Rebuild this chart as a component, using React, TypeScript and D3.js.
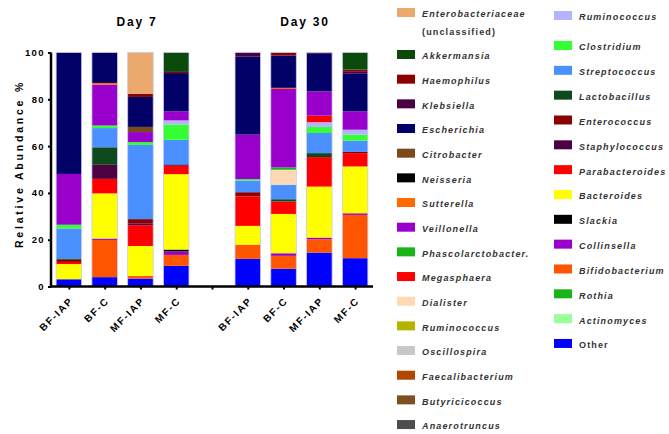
import React, { useEffect, useRef } from "react";
import * as d3 from "d3";

// legend columns, top to bottom (stacking goes the other way, bottom up)
const LEGEND_LEFT = [
  "Enterobacteriaceae",
  "Akkermansia",
  "Haemophilus",
  "Klebsiella",
  "Escherichia",
  "Citrobacter",
  "Neisseria",
  "Sutterella",
  "Veillonella",
  "Phascolarctobacter",
  "Megasphaera",
  "Dialister",
  "Ruminococcus_b",
  "Oscillospira",
  "Faecalibacterium",
  "Butyricicoccus",
  "Anaerotruncus",
];
const LEGEND_RIGHT = [
  "Ruminococcus_a",
  "Clostridium",
  "Streptococcus",
  "Lactobacillus",
  "Enterococcus",
  "Staphylococcus",
  "Parabacteroides",
  "Bacteroides",
  "Slackia",
  "Collinsella",
  "Bifidobacterium",
  "Rothia",
  "Actinomyces",
  "Other",
];

const COLORS: Record<string, string> = {
  Enterobacteriaceae: "#eba96e",
  Akkermansia: "#0c4a0c",
  Haemophilus: "#8b0000",
  Klebsiella: "#4b0042",
  Escherichia: "#000066",
  Citrobacter: "#7b4a1a",
  Neisseria: "#000000",
  Sutterella: "#ff6a00",
  Veillonella: "#9900cc",
  Phascolarctobacter: "#1ab31a",
  Megasphaera: "#ff0000",
  Dialister: "#ffd9b3",
  Ruminococcus_b: "#b3b300",
  Oscillospira: "#c8c8c8",
  Faecalibacterium: "#b34700",
  Butyricicoccus: "#7f4f1f",
  Anaerotruncus: "#4d4d4d",
  Ruminococcus_a: "#b3b3ff",
  Clostridium: "#33ff33",
  Streptococcus: "#4a90ff",
  Lactobacillus: "#0f4a1f",
  Enterococcus: "#8b0000",
  Staphylococcus: "#4d0042",
  Parabacteroides: "#ff0000",
  Bacteroides: "#ffff00",
  Slackia: "#000000",
  Collinsella: "#9900cc",
  Bifidobacterium: "#ff5500",
  Rothia: "#1ab31a",
  Actinomyces: "#99ff99",
  Other: "#0000ff",
};

const SAMPLES = ["BF-IAP", "BF-C", "MF-IAP", "MF-C"];
const GROUPS = ["Day 7", "Day 30"];

const DAY7_BF_IAP = { Other: 3.1, Bacteroides: 6.5, Parabacteroides: 0.9, Enterococcus: 0.9, Lactobacillus: 0.6, Streptococcus: 12.8, Clostridium: 1.6, Veillonella: 21.7, Escherichia: 51.9 };
const DAY7_BF_C = { Other: 4.0, Bifidobacterium: 15.9, Collinsella: 0.6, Bacteroides: 19.3, Parabacteroides: 6.2, Staphylococcus: 6.0, Lactobacillus: 7.5, Streptococcus: 8.2, Clostridium: 1.1, Veillonella: 17.5, Sutterella: 0.7, Escherichia: 13.0 };
const DAY7_MF_IAP = { Other: 3.4, Bifidobacterium: 1.1, Bacteroides: 12.8, Parabacteroides: 8.9, Staphylococcus: 0.8, Enterococcus: 1.8, Streptococcus: 31.7, Clostridium: 1.2, Veillonella: 4.3, Citrobacter: 2.2, Escherichia: 12.8, Haemophilus: 1.4, Enterobacteriaceae: 17.6 };
const DAY7_MF_C = { Other: 8.8, Bifidobacterium: 4.7, Collinsella: 1.5, Slackia: 0.8, Bacteroides: 32.2, Parabacteroides: 3.6, Staphylococcus: 0.6, Streptococcus: 10.5, Clostridium: 6.5, Ruminococcus_a: 1.8, Veillonella: 3.9, Escherichia: 16.3, Haemophilus: 0.5, Akkermansia: 8.3 };

const DAY30_BF_IAP = { Other: 11.8, Bifidobacterium: 6.1, Bacteroides: 8.0, Parabacteroides: 12.6, Enterococcus: 1.8, Streptococcus: 5.0, Clostridium: 0.6, Veillonella: 19.0, Escherichia: 33.3, Klebsiella: 1.8 };
const DAY30_BF_C = { Other: 7.6, Bifidobacterium: 5.5, Collinsella: 1.1, Bacteroides: 16.8, Parabacteroides: 5.3, Lactobacillus: 1.0, Streptococcus: 6.2, Dialister: 6.4, Phascolarctobacter: 1.0, Veillonella: 33.5, Sutterella: 0.5, Escherichia: 13.8, Haemophilus: 1.3 };
const DAY30_MF_IAP = { Other: 14.5, Bifidobacterium: 5.7, Collinsella: 0.7, Bacteroides: 21.8, Parabacteroides: 12.6, Lactobacillus: 1.7, Streptococcus: 8.6, Clostridium: 2.6, Ruminococcus_a: 2.0, Megasphaera: 2.8, Veillonella: 10.4, Escherichia: 16.3, Haemophilus: 0.3 };
const DAY30_MF_C = { Other: 12.1, Bifidobacterium: 18.5, Collinsella: 0.7, Bacteroides: 20.0, Parabacteroides: 5.7, Enterococcus: 0.5, Streptococcus: 4.8, Clostridium: 2.6, Ruminococcus_a: 2.1, Veillonella: 7.9, Escherichia: 16.0, Klebsiella: 1.1, Haemophilus: 0.7, Akkermansia: 7.3 };

const DAY7 = [DAY7_BF_IAP, DAY7_BF_C, DAY7_MF_IAP, DAY7_MF_C];
const DAY30 = [DAY30_BF_IAP, DAY30_BF_C, DAY30_MF_IAP, DAY30_MF_C];

const Y_TICKS = [0, 20, 40, 60, 80, 100];

const FONT = "'Liberation Sans', Arial, sans-serif";

const labelOf = (k: string) =>
  k.startsWith("Ruminococcus")
    ? "Ruminococcus"
    : k === "Phascolarctobacter"
      ? "Phascolarctobacter."
      : k;

export default function App() {
  const svgRef = useRef<SVGSVGElement>(null);

  useEffect(() => {
    if (!svgRef.current) return;
    const svg = d3.select(svgRef.current);
    svg.selectAll("*").remove();

    const width = 669;
    const height = 434;
    svg.attr("width", width).attr("height", height);

    // bottom-up stacking order
    const keys = [...LEGEND_RIGHT].reverse().concat([...LEGEND_LEFT].reverse());

    // 9 slots on the x axis, empty one between the two days
    const slots = [
      ...SAMPLES.map((s) => `d7|${s}`),
      "gap",
      ...SAMPLES.map((s) => `d30|${s}`),
    ];
    const rows = [
      ...DAY7.map((d, i) => ({ slot: slots[i], ...d })),
      ...DAY30.map((d, i) => ({ slot: slots[i + 5], ...d })),
    ] as any[];

    const x = d3.scalePoint<string>().domain(slots).range([51, 373]).padding(0.5);
    const y = d3.scaleLinear().domain([0, 100]).range([286.5, 52.5]);
    const barW = 25.5;

    const stack = d3
      .stack<any>()
      .keys(keys)
      .value((d, k) => d[k] ?? 0)
      .order(d3.stackOrderNone)
      .offset(d3.stackOffsetNone);
    const series = stack(rows);

    const bars = svg.append("g");
    series.forEach((s) => {
      bars
        .append("g")
        .attr("fill", COLORS[s.key])
        .selectAll("rect")
        .data(s.filter((d) => d[1] - d[0] > 0))
        .enter()
        .append("rect")
        .attr("x", (d) => (x(d.data.slot) ?? 0) - barW / 2)
        .attr("width", barW)
        .attr("y", (d) => y(d[1]))
        .attr("height", (d) => y(d[0]) - y(d[1]));
    });

    // faint outline round each column
    bars
      .selectAll(".outline")
      .data(rows)
      .enter()
      .append("rect")
      .attr("x", (d) => (x(d.slot) ?? 0) - barW / 2)
      .attr("width", barW)
      .attr("y", y(100))
      .attr("height", y(0) - y(100))
      .attr("fill", "none")
      .attr("stroke", "#c9c9ee")
      .attr("stroke-width", 0.8);

    // y axis
    const yAxis = svg
      .append("g")
      .attr("transform", `translate(51,0)`)
      .call(d3.axisLeft(y).tickValues(Y_TICKS).tickSize(3).tickPadding(3));
    yAxis.select(".domain").attr("stroke-width", 2.5).attr("d", `M0,${y(100)}V${y(0) + 1}`);
    yAxis.selectAll(".tick line").attr("stroke-width", 2);
    yAxis
      .selectAll("text")
      .style("font-family", FONT)
      .style("font-size", "9.5px")
      .style("font-weight", "bold")
      .style("letter-spacing", "1.4px")
      .attr("fill", "#000");

    // x axis
    const xAxis = svg
      .append("g")
      .attr("transform", `translate(0,${y(0)})`)
      .call(d3.axisBottom(x).tickSize(3).tickFormat(() => ""));
    xAxis.select(".domain").attr("stroke-width", 2.5).attr("d", `M50,0H373`);
    xAxis.selectAll(".tick line").attr("stroke-width", 2);

    svg
      .append("g")
      .selectAll("text")
      .data(slots.filter((s) => s !== "gap"))
      .enter()
      .append("text")
      .attr("transform", (d) => `translate(${(x(d) ?? 0) + 5},${y(0) + 15}) rotate(-45)`)
      .attr("text-anchor", "end")
      .style("font-family", FONT)
      .style("font-size", "10px")
      .style("font-weight", "bold")
      .style("letter-spacing", "1.6px")
      .text((d) => d.split("|")[1]);

    // group titles
    const titleX = [137, 305];
    svg
      .append("g")
      .selectAll("text")
      .data(GROUPS)
      .enter()
      .append("text")
      .attr("x", (_d, i) => titleX[i])
      .attr("y", 26)
      .attr("text-anchor", "middle")
      .style("font-family", FONT)
      .style("font-size", "12px")
      .style("font-weight", "bold")
      .style("letter-spacing", "1.8px")
      .text((d) => d);

    svg
      .append("text")
      .attr("transform", `translate(23,164) rotate(-90)`)
      .attr("text-anchor", "middle")
      .style("font-family", FONT)
      .style("font-size", "10.5px")
      .style("font-weight", "bold")
      .style("letter-spacing", "2.8px")
      .text("Relative Abundance %");

    // legend
    const drawLegend = (list: string[], sx: number, tx: number, rowY: (i: number) => number) => {
      const g = svg.append("g");
      list.forEach((k, i) => {
        const cy = rowY(i);
        g.append("rect")
          .attr("x", sx)
          .attr("y", cy - 7)
          .attr("width", 18)
          .attr("height", 9)
          .attr("fill", COLORS[k]);
        g.append("text")
          .attr("x", tx)
          .attr("y", cy)
          .attr("dominant-baseline", "middle")
          .style("font-family", FONT)
          .style("font-size", "9px")
          .style("font-weight", "bold")
          .style("font-style", k === "Other" ? "normal" : "italic")
          .style("letter-spacing", "1.15px")
          .attr("fill", "#333")
          .text(labelOf(k));
        if (k === "Enterobacteriaceae") {
          g.append("text")
            .attr("x", tx)
            .attr("y", cy + 18)
            .attr("dominant-baseline", "middle")
            .style("font-family", FONT)
            .style("font-size", "9px")
            .style("font-weight", "bold")
            .style("letter-spacing", "1.15px")
            .attr("fill", "#333")
            .text("(unclassified)");
        }
      });
    };
    drawLegend(LEGEND_LEFT, 397, 422, (i) => (i === 0 ? 15 : 57 + (i - 1) * 24.67));
    drawLegend(LEGEND_RIGHT, 554, 579, (i) => (i === 0 ? 18 : 48 + (i - 1) * 24.83));
  }, []);

  return (
    <div style={{ position: "fixed", left: 0, top: 0, background: "#fff" }}>
      <svg ref={svgRef} style={{ display: "block" }} />
    </div>
  );
}
